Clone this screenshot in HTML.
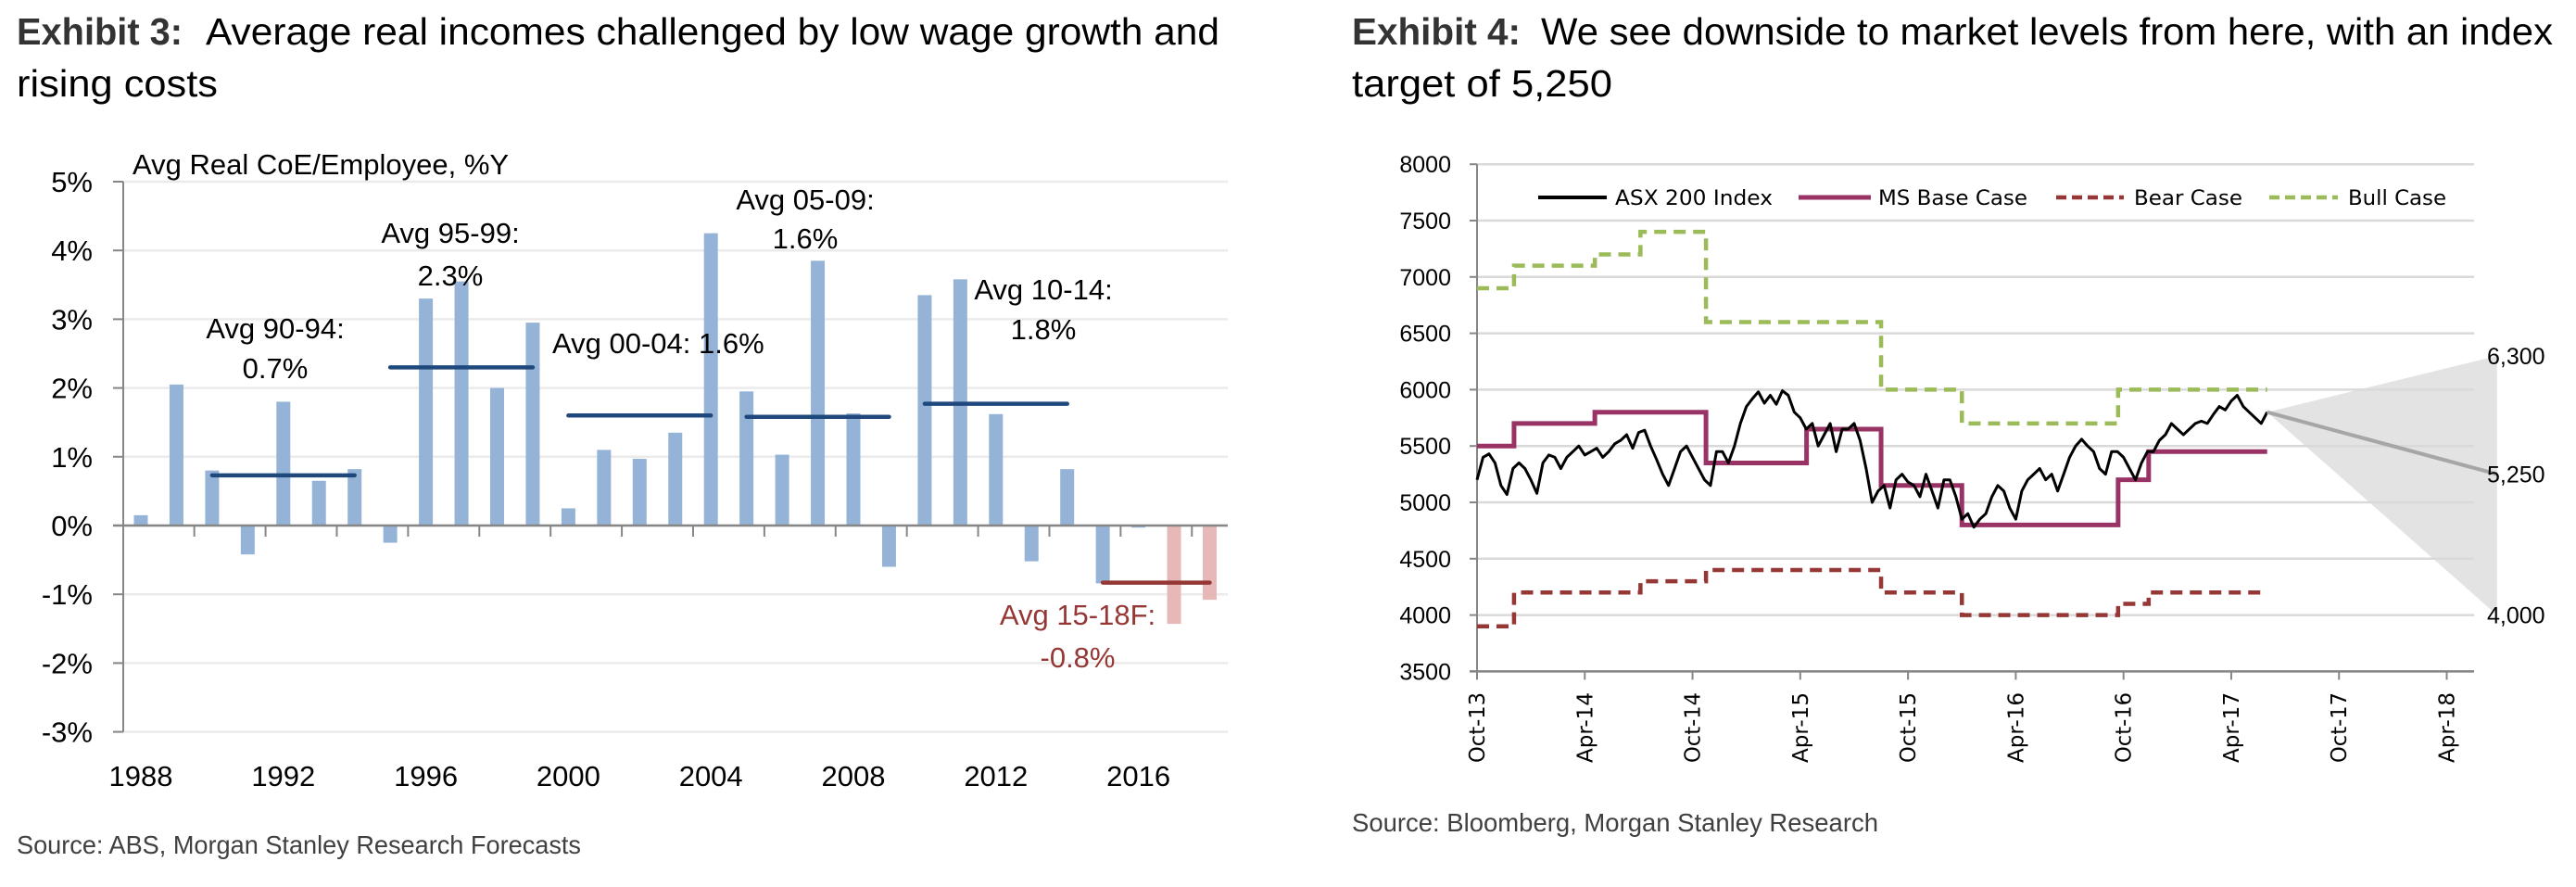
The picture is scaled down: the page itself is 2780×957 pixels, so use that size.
<!DOCTYPE html>
<html><head><meta charset="utf-8">
<style>
html,body{margin:0;padding:0;background:#fff;}
svg{display:block;}
.t{font-family:"Liberation Sans Narrow","Liberation Sans",sans-serif;}
.c{font-family:"Liberation Sans",sans-serif;}
.d{font-family:"DejaVu Sans","Liberation Sans",sans-serif;}
</style></head>
<body>
<svg id="root" width="2780" height="957" viewBox="0 0 2780 957" xmlns="http://www.w3.org/2000/svg">
  <g>
    <text class="t" x="18" y="48" font-size="41" font-weight="bold" fill="#333" textLength="179" lengthAdjust="spacingAndGlyphs">Exhibit 3:</text>
    <text class="t" x="222" y="48" font-size="41" fill="#000" textLength="1094" lengthAdjust="spacingAndGlyphs">Average real incomes challenged by low wage growth and</text>
    <text class="t" x="18" y="104" font-size="41" fill="#000" textLength="217" lengthAdjust="spacingAndGlyphs">rising costs</text>
  </g>
  <g>
    <text class="t" x="1459" y="48" font-size="41" font-weight="bold" fill="#333" textLength="182" lengthAdjust="spacingAndGlyphs">Exhibit 4:</text>
    <text class="t" x="1663" y="48" font-size="41" fill="#000" textLength="1092" lengthAdjust="spacingAndGlyphs">We see downside to market levels from here, with an index</text>
    <text class="t" x="1459" y="104" font-size="41" fill="#000" textLength="281" lengthAdjust="spacingAndGlyphs">target of 5,250</text>
  </g>
  <g id="left"></g>
  <g id="right"></g>
  <text class="t" x="18" y="921" font-size="28" fill="#404040" textLength="609" lengthAdjust="spacingAndGlyphs">Source: ABS, Morgan Stanley Research Forecasts</text>
  <text class="t" x="1459" y="897" font-size="28" fill="#404040" textLength="568" lengthAdjust="spacingAndGlyphs">Source: Bloomberg, Morgan Stanley Research</text>
</svg>
<script>
// ---------- Exhibit 3 data ----------
const years = [1988,1989,1990,1991,1992,1993,1994,1995,1996,1997,1998,1999,2000,2001,2002,2003,2004,2005,2006,2007,2008,2009,2010,2011,2012,2013,2014,2015,2016,2017,2018];
const coeValues = [0.15,2.05,0.8,-0.42,1.8,0.65,0.82,-0.25,3.3,3.55,2.0,2.95,0.25,1.1,0.97,1.35,4.25,1.95,1.03,3.85,1.63,-0.6,3.35,3.58,1.62,-0.52,0.82,-0.84,-0.03,-1.43,-1.08];
const forecastFrom = 2017;
const yTicks3 = [5,4,3,2,1,0,-1,-2,-3];
const xLabelYears = [1988,1992,1996,2000,2004,2008,2012,2016];
const avgStart = [1990,1995,2000,2005,2010,2015];
const avgEnd = [1994,1999,2004,2009,2014,2018];
const avgValues = [0.73,2.3,1.6,1.58,1.77,-0.83];

// ---------- Exhibit 4 data ----------
const xTickLabels4 = ["Oct-13","Apr-14","Oct-14","Apr-15","Oct-15","Apr-16","Oct-16","Apr-17","Oct-17","Apr-18"];
const yTicks4 = [8000,7500,7000,6500,6000,5500,5000,4500,4000,3500];
// step series: breakpoints in months since Oct-13, values per segment
const stepBreaks = [0,2.06,6.56,9.1,12.75,18.35,22.5,27,35.7,37.4,44];
const bullValues = [6900,7100,7200,7400,6600,6600,6000,5700,6000,6000];
const baseValues = [5500,5700,5800,5800,5350,5650,5150,4800,5200,5450];
const bearValues = [3900,4200,4200,4300,4400,4400,4200,4000,4100,4200];
const asxStartMonth = 0, asxEndMonth = 44;
const asxValues = [5200,5400,5430,5350,5150,5070,5300,5350,5300,5200,5080,5350,5420,5400,5300,5400,5450,5500,5420,5450,5480,5400,5450,5520,5550,5600,5480,5620,5640,5500,5380,5250,5150,5300,5450,5500,5400,5300,5200,5150,5450,5450,5350,5500,5700,5850,5920,5980,5880,5950,5870,5990,5950,5800,5750,5650,5700,5500,5600,5700,5450,5650,5650,5700,5550,5300,5000,5100,5150,4950,5200,5250,5180,5150,5050,5250,5100,4950,5200,5200,5050,4850,4900,4780,4850,4900,5050,5150,5100,4950,4850,5100,5200,5250,5300,5200,5250,5100,5250,5400,5500,5560,5500,5450,5300,5250,5450,5450,5400,5300,5200,5350,5450,5450,5550,5600,5700,5650,5600,5650,5700,5720,5700,5780,5850,5820,5900,5950,5850,5800,5750,5700,5800];
const forecastMonthEnd = 56.8;
const targetBase = 5250, targetBull = 6300, targetBear = 4000;
const targetLabels = ["6,300","5,250","4,000"];
const legendNames = ["ASX 200 Index","MS Base Case","Bear Case","Bull Case"];

const NS = "http://www.w3.org/2000/svg";
function mk(parent, tag, attrs, txt){
  const e = document.createElementNS(NS, tag);
  for (const k in attrs) e.setAttribute(k, attrs[k]);
  if (txt !== undefined) e.textContent = txt;
  parent.appendChild(e);
  return e;
}

// ===== Exhibit 3 =====
(function(){
  const g = document.getElementById('left');
  const X0 = 133, X1 = 1325, firstC = 152, step = 38.45;
  const y = v => 567 - v*74.2;
  const xc = yr => firstC + (yr - years[0]) * step;
  yTicks3.forEach(v => {
    const gl = mk(g,'line',{x1:X0,x2:X1,y1:y(v),y2:y(v),stroke:'#ebebeb','stroke-width':2.5});
    
    
    const tk = mk(g,'line',{x1:X0-11,x2:X0,y1:y(v),y2:y(v),stroke:'#868686','stroke-width':2});
    
    
    const tl = mk(g,'text',{x:100,y:y(v)+11,'font-size':31,'text-anchor':'end',fill:'#000',class:'c'}, v+'%');
    
    
  });
  const ax = mk(g,'line',{x1:X0,x2:X0,y1:y(5),y2:y(-3),stroke:'#868686','stroke-width':2});
  
  
  years.forEach((yr,i) => {
    const v = coeValues[i];
    const r = mk(g,'rect',{x:xc(yr)-7.5,width:15,y:Math.min(y(v),y(0)),height:Math.abs(y(v)-y(0)),fill: yr>=forecastFrom ? '#e6b9b8' : '#95b3d7'});
    
    
  });
  const xa = mk(g,'line',{x1:X0-11,x2:X1,y1:y(0),y2:y(0),stroke:'#868686','stroke-width':2.5});
  
  
  for (let i = 1; i < years.length; i += 2) {
    const tx = firstC + (i + 0.5) * step;
    const t = mk(g,'line',{x1:tx,x2:tx,y1:y(0),y2:y(0)+12,stroke:'#868686','stroke-width':2});
    
    
  }
  xLabelYears.forEach(yr => {
    const t = mk(g,'text',{x:xc(yr),y:848,'font-size':31,'text-anchor':'middle',fill:'#000',class:'c'}, String(yr));
    
    
  });
  avgValues.forEach((v,i) => {
    const last = i === avgValues.length-1;
    const l = mk(g,'line',{x1:xc(avgStart[i]),x2:xc(avgEnd[i]),y1:y(v),y2:y(v),stroke: last ? '#953735' : '#1f497d','stroke-width':4.5,'stroke-linecap':'round'});
    
    
  });
  const ann = [
    ['Avg Real CoE/Employee, %Y',143,188,'start','#000'],
    ['Avg 90-94:',297,365,'middle','#000'],['0.7%',297,408,'middle','#000'],
    ['Avg 95-99:',486,262,'middle','#000'],['2.3%',486,308,'middle','#000'],
    ['Avg 00-04: 1.6%',596,381,'start','#000'],
    ['Avg 05-09:',869,226,'middle','#000'],['1.6%',869,268,'middle','#000'],
    ['Avg 10-14:',1126,323,'middle','#000'],['1.8%',1126,366,'middle','#000'],
    ['Avg 15-18F:',1163,674,'middle','#953735'],['-0.8%',1163,720,'middle','#953735']
  ];
  ann.forEach(a => {
    const t = mk(g,'text',{x:a[1],y:a[2],'font-size':31,'text-anchor':a[3],fill:a[4],class:'c'}, a[0]);
    
    
  });
})();

// ===== Exhibit 4 =====
(function(){
  const g = document.getElementById('right');
  const X0 = 1594, X1 = 2670, perMonth = 19.38;
  const x = m => X0 + m*perMonth;
  const y = v => 724.4 - (v-3500)*0.1216;
  // fan
  const apexM = asxEndMonth, apexV = asxValues[asxValues.length-1];
  const fan = mk(g,'polygon',{points:`${x(apexM)},${y(apexV)} ${x(forecastMonthEnd)},${y(targetBull)} ${x(forecastMonthEnd)},${y(targetBear)}`,fill:'#e3e3e3'});
  
  
  yTicks4.forEach(v => {
    const gl = mk(g,'line',{x1:X0,x2:X1,y1:y(v),y2:y(v),stroke:'#d9d9d9','stroke-width':2.5});
    
    
    const tk = mk(g,'line',{x1:X0-8,x2:X0,y1:y(v),y2:y(v),stroke:'#868686','stroke-width':2});
    
    
    const tl = mk(g,'text',{x:1566,y:y(v)+9,'font-size':25,'text-anchor':'end',fill:'#000',class:'c'}, String(v));
    
    
  });
  const ax = mk(g,'line',{x1:X0,x2:X0,y1:y(8000),y2:y(3500),stroke:'#868686','stroke-width':2});
  
  
  const xa = mk(g,'line',{x1:X0-8,x2:X1,y1:y(3500),y2:y(3500),stroke:'#868686','stroke-width':2.5});
  
  
  xTickLabels4.forEach((lab,i) => {
    const tx = x(i*6);
    const t = mk(g,'line',{x1:tx,x2:tx,y1:y(3500),y2:y(3500)+9,stroke:'#868686','stroke-width':2});
    
    
    const tl = mk(g,'text',{x:0,y:0,'font-size':23,'text-anchor':'end',fill:'#000',class:'d',transform:`translate(${tx+8},747) rotate(-90)`,textLength:76,lengthAdjust:'spacingAndGlyphs'}, lab);
    
    
  });
  function stepPath(vals){
    let d = `M${x(stepBreaks[0])},${y(vals[0])}`;
    for (let i=0;i<vals.length;i++){
      if (i>0) d += ` L${x(stepBreaks[i])},${y(vals[i])}`;
      d += ` L${x(stepBreaks[i+1])},${y(vals[i])}`;
    }
    return d;
  }
  const bull = mk(g,'path',{d:stepPath(bullValues),fill:'none',stroke:'#9bbb59','stroke-width':4.5,'stroke-dasharray':'13 8'});
  
  
  const bear = mk(g,'path',{d:stepPath(bearValues),fill:'none',stroke:'#953735','stroke-width':4.5,'stroke-dasharray':'13 8'});
  
  
  const base = mk(g,'path',{d:stepPath(baseValues),fill:'none',stroke:'#993366','stroke-width':5});
  
  
  const n = asxValues.length;
  let d = '';
  asxValues.forEach((v,i) => {
    const m = asxStartMonth + (asxEndMonth-asxStartMonth)*i/(n-1);
    d += (i?' L':'M') + x(m).toFixed(1) + ',' + y(v).toFixed(1);
  });
  const asx = mk(g,'path',{d:d,fill:'none',stroke:'#000','stroke-width':3,'stroke-linejoin':'round'});
  
  
  const fl = mk(g,'line',{x1:x(apexM),y1:y(apexV),x2:x(forecastMonthEnd),y2:y(targetBase),stroke:'#a6a6a6','stroke-width':4});
  
  
  [targetBull,targetBase,targetBear].forEach((v,i) => {
    const t = mk(g,'text',{x:2684,y:y(v)+[9,9,9][i] - (i===0?-0:0),'font-size':25,fill:'#000',class:'c'}, targetLabels[i]);
    
    
  });
  // legend
  const lg = mk(g,'g',{});
  
  
  const lx = [[1660,1734,1743,170],[1941,2019,2027,161],[2219,2292,2303,117],[2449,2523,2534,106]];
  const lstyle = [['#000',4,''],['#993366',5,''],['#953735',4.5,'11 6'],['#9bbb59',4.5,'11 6']];
  legendNames.forEach((nm,i) => {
    const le = mk(lg,'g',{});
    
    
    const a = {x1:lx[i][0],x2:lx[i][1],y1:213,y2:213,stroke:lstyle[i][0],'stroke-width':lstyle[i][1]};
    if (lstyle[i][2]) a['stroke-dasharray'] = lstyle[i][2];
    mk(le,'line',a);
    mk(le,'text',{x:lx[i][2],y:221,'font-size':22,fill:'#000',class:'d',textLength:lx[i][3],lengthAdjust:'spacingAndGlyphs'}, nm);
  });
})();
</script>
</body></html>
